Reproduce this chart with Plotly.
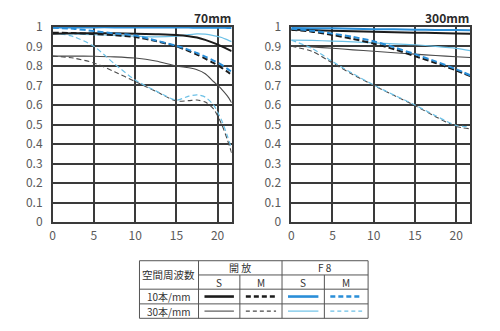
import plotly.graph_objects as go

# ---- data ----
x_70 = [0, 2.5, 5, 7.5, 10, 12.5, 15, 16.5, 17.5, 18.5, 19.5, 20.5, 21.2, 21.7]
s70_open_S10 = [0.965, 0.967, 0.967, 0.967, 0.965, 0.962, 0.958, 0.952, 0.945, 0.933, 0.918, 0.9, 0.886, 0.875]
s70_open_M10 = [0.97, 0.968, 0.963, 0.957, 0.948, 0.927, 0.9, 0.876, 0.858, 0.837, 0.815, 0.79, 0.77, 0.752]
s70_f8_S10 = [0.997, 0.997, 0.997, 0.997, 0.996, 0.996, 0.996, 0.996, 0.995, 0.995, 0.995, 0.995, 0.994, 0.994]
s70_f8_M10 = [0.995, 0.99, 0.978, 0.966, 0.955, 0.93, 0.903, 0.882, 0.866, 0.847, 0.827, 0.805, 0.785, 0.77]
s70_open_S30 = [0.85, 0.85, 0.849, 0.846, 0.84, 0.825, 0.80, 0.79, 0.78, 0.76, 0.72, 0.68, 0.645, 0.612]
s70_open_M30 = [0.85, 0.84, 0.815, 0.77, 0.72, 0.67, 0.62, 0.622, 0.625, 0.615, 0.58, 0.5, 0.42, 0.355]
s70_f8_S30 = [0.965, 0.963, 0.96, 0.956, 0.952, 0.948, 0.952, 0.96, 0.964, 0.962, 0.955, 0.945, 0.933, 0.924]
s70_f8_M30 = [0.97, 0.95, 0.9, 0.81, 0.728, 0.672, 0.625, 0.645, 0.652, 0.64, 0.6, 0.52, 0.44, 0.375]

x_300 = [0, 2.5, 5, 7.5, 10, 12.5, 15, 17.5, 20, 21.7]
s300_open_S10 = [0.985, 0.983, 0.98, 0.977, 0.975, 0.972, 0.97, 0.968, 0.966, 0.965]
s300_open_M10 = [0.985, 0.975, 0.958, 0.938, 0.914, 0.885, 0.85, 0.815, 0.777, 0.748]
s300_f8_S10 = [0.994, 0.993, 0.992, 0.99, 0.988, 0.987, 0.985, 0.984, 0.983, 0.982]
s300_f8_M10 = [0.99, 0.98, 0.965, 0.948, 0.926, 0.895, 0.86, 0.823, 0.783, 0.752]
s300_open_S30 = [0.903, 0.897, 0.89, 0.882, 0.875, 0.867, 0.86, 0.853, 0.847, 0.843]
s300_open_M30 = [0.90, 0.875, 0.815, 0.755, 0.70, 0.648, 0.597, 0.54, 0.49, 0.478]
s300_f8_S30 = [0.932, 0.93, 0.927, 0.923, 0.918, 0.913, 0.908, 0.9, 0.89, 0.878]
s300_f8_M30 = [0.932, 0.89, 0.822, 0.76, 0.702, 0.65, 0.6, 0.545, 0.495, 0.488]

titles = ["70mm", "300mm"]
x_ticks = [0, 5, 10, 15, 20]
y_ticks = [0, 0.1, 0.2, 0.3, 0.4, 0.5, 0.6, 0.7, 0.8, 0.9, 1.0]
y_labels = ["0", "0.1", "0.2", "0.3", "0.4", "0.5", "0.6", "0.7", "0.8", "0.9", "1"]

table_col_head = "空間周波数"
table_groups = ["開 放", "F 8"]
table_sub = ["S", "M", "S", "M"]
table_rows = ["10本/mm", "30本/mm"]

# ---- styles ----
BLK = "#1c1c1c"
BLK_THIN = "#4a4a4a"
BLU = "#2a8ed8"
BLU_THIN = "#6cc0e6"
FONT = "Noto Sans CJK JP"
W, H = 500, 331

styles = {
    "open_S10": dict(color=BLK, width=2.0, dash="solid"),
    "open_M10": dict(color=BLK, width=2.0, dash="6px,3px"),
    "f8_S10": dict(color=BLU, width=2.0, dash="solid"),
    "f8_M10": dict(color=BLU, width=2.0, dash="6px,3px"),
    "open_S30": dict(color=BLK_THIN, width=1.1, dash="solid"),
    "open_M30": dict(color=BLK_THIN, width=1.1, dash="5px,3px"),
    "f8_S30": dict(color=BLU_THIN, width=1.2, dash="solid"),
    "f8_M30": dict(color=BLU_THIN, width=1.2, dash="5px,3px"),
}

fig = go.Figure()

def add_chart(xs, series, xa, ya):
    order = ["open_S30", "open_M30", "f8_S30", "f8_M30", "open_S10", "open_M10", "f8_M10", "f8_S10"]
    for k in order:
        st = styles[k]
        fig.add_trace(go.Scatter(x=xs, y=series[k], mode="lines", xaxis=xa, yaxis=ya,
                                 line=dict(color=st["color"], width=st["width"], dash=st["dash"],
                                           shape="spline", smoothing=0.7),
                                 showlegend=False, hoverinfo="skip"))

add_chart(x_70, dict(open_S10=s70_open_S10, open_M10=s70_open_M10, f8_S10=s70_f8_S10, f8_M10=s70_f8_M10,
                     open_S30=s70_open_S30, open_M30=s70_open_M30, f8_S30=s70_f8_S30, f8_M30=s70_f8_M30), "x", "y")
add_chart(x_300, dict(open_S10=s300_open_S10, open_M10=s300_open_M10, f8_S10=s300_f8_S10, f8_M10=s300_f8_M10,
                      open_S30=s300_open_S30, open_M30=s300_open_M30, f8_S30=s300_f8_S30, f8_M30=s300_f8_M30), "x2", "y2")

def py(p):
    return 1 - p / H

ydom = [py(223.7), py(17.7)]
grid = dict(showgrid=True, gridcolor="#3a3a3a", gridwidth=1.5, showline=True, linecolor="#3a3a3a",
            linewidth=1.5, mirror=True, zeroline=False, ticks="",
            tickfont=dict(family=FONT, size=12, color="#5a5a5a"))

fig.update_layout(
    width=W, height=H, margin=dict(l=0, r=0, t=0, b=0),
    paper_bgcolor="white", plot_bgcolor="white",
    xaxis=dict(domain=[50 / W, 230 / W], range=[0, 21.7], tickvals=x_ticks, anchor="y",
               ticklabelstandoff=2, **grid),
    yaxis=dict(domain=ydom, range=[0, 1], tickvals=y_ticks, ticktext=y_labels, anchor="x",
               ticklabelstandoff=6, **grid),
    xaxis2=dict(domain=[290 / W, 470 / W], range=[0, 21.7], tickvals=x_ticks, anchor="y2",
                ticklabelstandoff=2, **grid),
    yaxis2=dict(domain=ydom, range=[0, 1], tickvals=y_ticks, ticktext=y_labels, anchor="x2",
                ticklabelstandoff=6, **grid),
)

ann = []
for t, xr in zip(titles, [231, 471]):
    ann.append(dict(text="<b>" + t + "</b>", x=xr / W, y=py(8), xref="paper", yref="paper", xanchor="right",
                    yanchor="middle", showarrow=False, font=dict(family=FONT, size=12, color="#2a2a2a")))

# ---- table ----
shapes = []
TC = "#555555"
xs_col = [137.3, 196.7, 238.3, 280.7, 323.3, 367.3]
ys_row = [264.3, 279.3, 294.3, 309.8, 325.0]

def hline(x0, x1, y, w=1):
    shapes.append(dict(type="line", xref="paper", yref="paper", x0=x0 / W, x1=x1 / W, y0=py(y), y1=py(y),
                       line=dict(color=TC, width=w)))

def vline(x, y0, y1, w=1):
    shapes.append(dict(type="line", xref="paper", yref="paper", x0=x / W, x1=x / W, y0=py(y0), y1=py(y1),
                       line=dict(color=TC, width=w)))

hline(xs_col[0], xs_col[-1], ys_row[0])
hline(xs_col[1], xs_col[-1], ys_row[1])
hline(xs_col[0], xs_col[-1], ys_row[2])
hline(xs_col[0], xs_col[-1], ys_row[3])
hline(xs_col[0], xs_col[-1], ys_row[4])
vline(xs_col[0], ys_row[0], ys_row[4])
vline(xs_col[1], ys_row[0], ys_row[4])
vline(xs_col[2], ys_row[1], ys_row[4])
vline(xs_col[3], ys_row[0], ys_row[4])
vline(xs_col[4], ys_row[1], ys_row[4])
vline(xs_col[5], ys_row[0], ys_row[4])

def txt(s, x, y, size=10):
    ann.append(dict(text=s, x=x / W, y=py(y), xref="paper", yref="paper", xanchor="center",
                    yanchor="middle", showarrow=False, borderpad=0,
                    font=dict(family=FONT, size=size, color="#333")))

txt(table_col_head, (xs_col[0] + xs_col[1]) / 2, (ys_row[0] + ys_row[2]) / 2, size=10.5)
txt(table_groups[0], (xs_col[1] + xs_col[3]) / 2, (ys_row[0] + ys_row[1]) / 2)
txt(table_groups[1], (xs_col[3] + xs_col[5]) / 2, (ys_row[0] + ys_row[1]) / 2)
for i, s in enumerate(table_sub):
    txt(s, (xs_col[i + 1] + xs_col[i + 2]) / 2, (ys_row[1] + ys_row[2]) / 2)
for i, s in enumerate(table_rows):
    txt(s, (xs_col[0] + xs_col[1]) / 2, (ys_row[i + 2] + ys_row[i + 3]) / 2, size=10)

# legend swatches
keys = [["open_S10", "open_M10", "f8_S10", "f8_M10"], ["open_S30", "open_M30", "f8_S30", "f8_M30"]]
for r in range(2):
    yc = (ys_row[r + 2] + ys_row[r + 3]) / 2
    for c in range(4):
        st = styles[keys[r][c]]
        x0 = xs_col[c + 1] + 6
        x1 = xs_col[c + 2] - 6
        dash = "solid" if st["dash"] == "solid" else ("5px,3px" if r == 0 else "4px,3px")
        shapes.append(dict(type="line", xref="paper", yref="paper", x0=x0 / W, x1=x1 / W, y0=py(yc), y1=py(yc),
                           line=dict(color=st["color"], width=st["width"] + (0.6 if r == 0 else 0), dash=dash)))

fig.update_layout(shapes=shapes, annotations=ann)
fig.write_html("out.html")
